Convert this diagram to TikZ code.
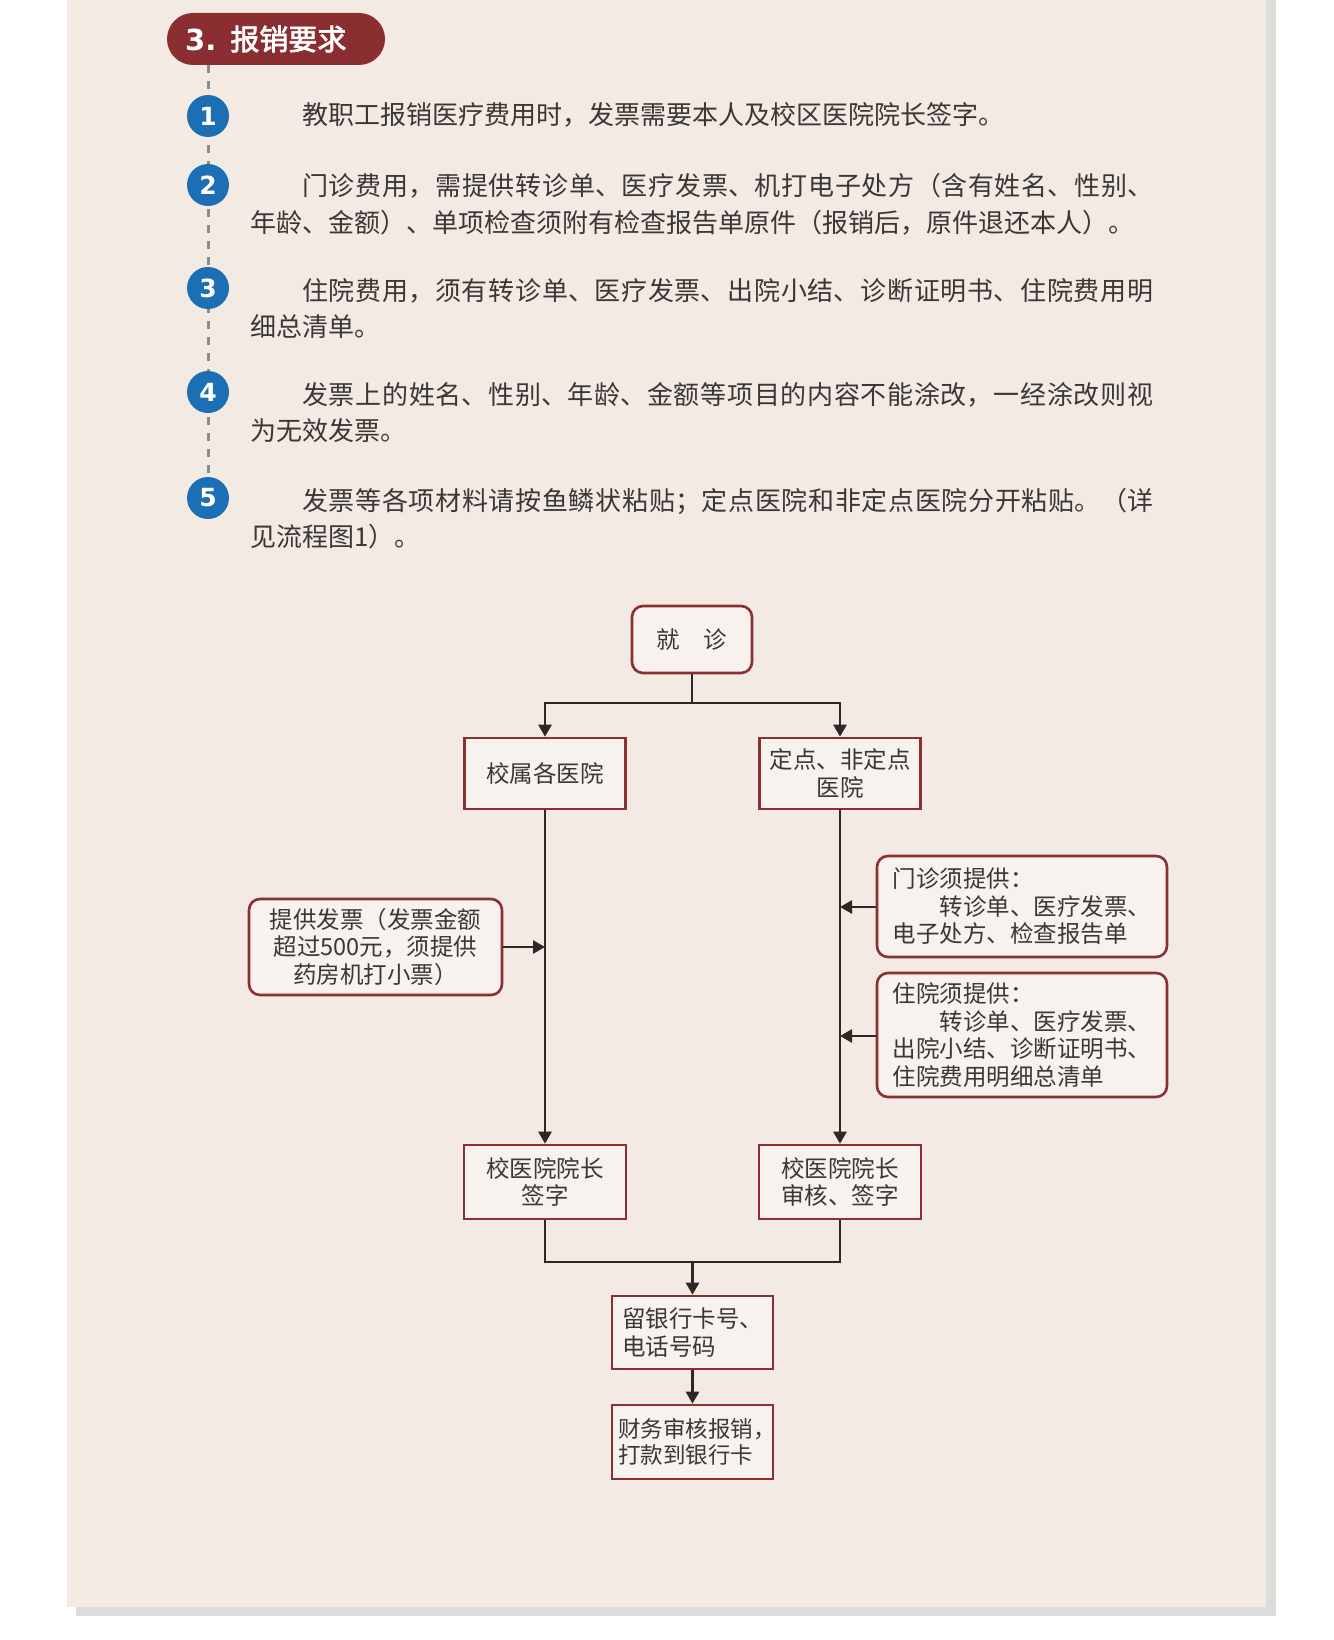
\documentclass[tikz,border=0pt]{standalone}
\usepackage{fontspec}
\usetikzlibrary{arrows.meta}
\newfontfamily\cjk{Noto Sans CJK SC}
\newfontfamily\cjkb{Noto Sans CJK SC}[FakeBold=2.5]
\newfontfamily\numf{DejaVu Sans}
\XeTeXlinebreaklocale "zh"
\XeTeXlinebreakskip=0pt plus 1.5pt
\definecolor{panelc}{HTML}{F3EAE4}
\definecolor{shadowc}{HTML}{DCDCDA}
\definecolor{hdrc}{HTML}{8A2E32}
\definecolor{bluec}{HTML}{1C6FB5}
\definecolor{dashc}{HTML}{8E8C8B}
\definecolor{txtc}{HTML}{3A3736}
\definecolor{redc}{HTML}{8C2F33}
\definecolor{boxc}{HTML}{F7F2EE}
\definecolor{arrc}{HTML}{2E2627}
\tikzset{
  numcirc/.style={circle, fill=bluec, minimum size=42pt, inner sep=0pt, text=white,
    font=\numf\bfseries\fontsize{25}{25}\selectfont},
  para/.style={anchor=base west, text width=903pt, inner sep=0pt, align=justify,
    text=txtc, font=\cjk\fontsize{26}{36}\selectfont},
  fbox/.style={draw=redc, line width=2.6pt, fill=boxc, inner sep=0pt, text=txtc,
    font=\cjk\fontsize{23.5}{27.5}\selectfont},
  rbox/.style={fbox, rounded corners=11pt},
  ln/.style={draw=arrc, line width=2.6pt},
  arr/.style={ln, -{Triangle[length=12pt,width=13pt]}}
}
\begin{document}
\begin{tikzpicture}[x=1pt,y=-1pt]
\useasboundingbox (0,0) rectangle (1333,1640);
\fill[white] (0,0) rectangle (1333,1640);
\fill[shadowc] (76,0) rectangle (1276,1616);
\fill[panelc] (66.7,0) rectangle (1266,1607);

% header
\fill[hdrc, rounded corners=26pt] (167,13) rectangle (385,65);
\node[anchor=west, inner sep=0pt, text=white, font=\cjkb\fontsize{29}{29}\selectfont] (hdtxt) at (185,39)
  {{\numf\bfseries 3.}\hspace{14pt}报销要求};

% dashed guide
\coordinate (dtop) at (208,65);
\coordinate (dbot) at (208,498);
\draw[dashc, line width=3pt, dash pattern=on 8pt off 8pt] (dtop) -- (dbot);

\node[numcirc] (c1) at (208,116) {1};
\node[numcirc] (c2) at (208,185) {2};
\node[numcirc] (c3) at (208,288) {3};
\node[numcirc] (c4) at (208,392) {4};
\node[numcirc] (c5) at (208,498) {5};

\node[para] (t1) at (250,125) {\hspace*{2em}教职工报销医疗费用时，发票需要本人及校区医院院长签字。};
\node[para] (t2) at (250,196) {\hspace*{2em}门诊费用，需提供转诊单、医疗发票、机打电子处方（含有姓名、性别、\linebreak 年龄、金额）、单项检查须附有检查报告单原件（报销后，原件退还本人）。};
\node[para] (t3) at (250,300) {\hspace*{2em}住院费用，须有转诊单、医疗发票、出院小结、诊断证明书、住院费用明\linebreak 细总清单。};
\node[para] (t4) at (250,404) {\hspace*{2em}发票上的姓名、性别、年龄、金额等项目的内容不能涂改，一经涂改则视\linebreak 为无效发票。};
\node[para] (t5) at (250,510) {\hspace*{2em}发票等各项材料请按鱼鳞状粘贴；定点医院和非定点医院分开粘贴。（详\linebreak 见流程图1）。};

% flowchart
\node[rbox, minimum width=120pt, minimum height=67pt] (jz) at (692,639.5) {就\hspace{1em}诊};
\node[fbox, minimum width=161pt, minimum height=71pt] (xs) at (545,773.5) {校属各医院};
\node[fbox, minimum width=161pt, minimum height=71pt, align=center] (dd) at (840,773.5) {定点、非定点\\医院};
\node[rbox, minimum width=290pt, minimum height=101pt, align=left] (mz) at (1022,906.5)
  {门诊须提供：\\\hspace*{2em}转诊单、医疗发票、\\电子处方、检查报告单};
\node[rbox, minimum width=290pt, minimum height=124pt, align=left] (zy) at (1022,1035)
  {住院须提供：\\\hspace*{2em}转诊单、医疗发票、\\出院小结、诊断证明书、\\住院费用明细总清单};
\node[rbox, minimum width=253pt, minimum height=96pt, align=center] (fp) at (375.5,947)
  {提供发票（发票金额\\超过500元，须提供\\药房机打小票）};
\node[fbox, minimum width=162pt, minimum height=74pt, align=center] (ql) at (545,1182) {校医院院长\\签字};
\node[fbox, minimum width=162pt, minimum height=74pt, align=center] (qr) at (840,1182) {校医院院长\\审核、签字};
\node[fbox, minimum width=161pt, minimum height=73pt, align=left] (yh) at (692.5,1332.5) {留银行卡号、\\电话号码};
\node[fbox, minimum width=161pt, minimum height=74pt, align=left, font=\cjk\fontsize{22.5}{26.5}\selectfont] (cw) at (692.5,1442) {财务审核报销\makebox[0.6em][l]{，}\\打款到银行卡};

\coordinate (split) at (692,703);
\draw[ln] (jz.south) -- (split);
\draw[arr] (split) -| (xs.north);
\draw[arr] (split) -| (dd.north);
\draw[arr] (xs.south) -- (ql.north);
\draw[arr] (dd.south) -- (qr.north);
\coordinate (jl) at (545,947);
\coordinate (jr1) at (840,907);
\coordinate (jr2) at (840,1036);
\draw[arr] (fp.east) -- (jl);
\draw[arr] (mz.west |- jr1) -- (jr1);
\draw[arr] (zy.west |- jr2) -- (jr2);
\coordinate (merge) at (692.5,1262);
\draw[ln] (ql.south) |- (merge);
\draw[ln] (qr.south) |- (merge);
\draw[arr] (merge) -- (yh.north);
\draw[arr] (yh.south) -- (cw.north);
\end{tikzpicture}
\end{document}
